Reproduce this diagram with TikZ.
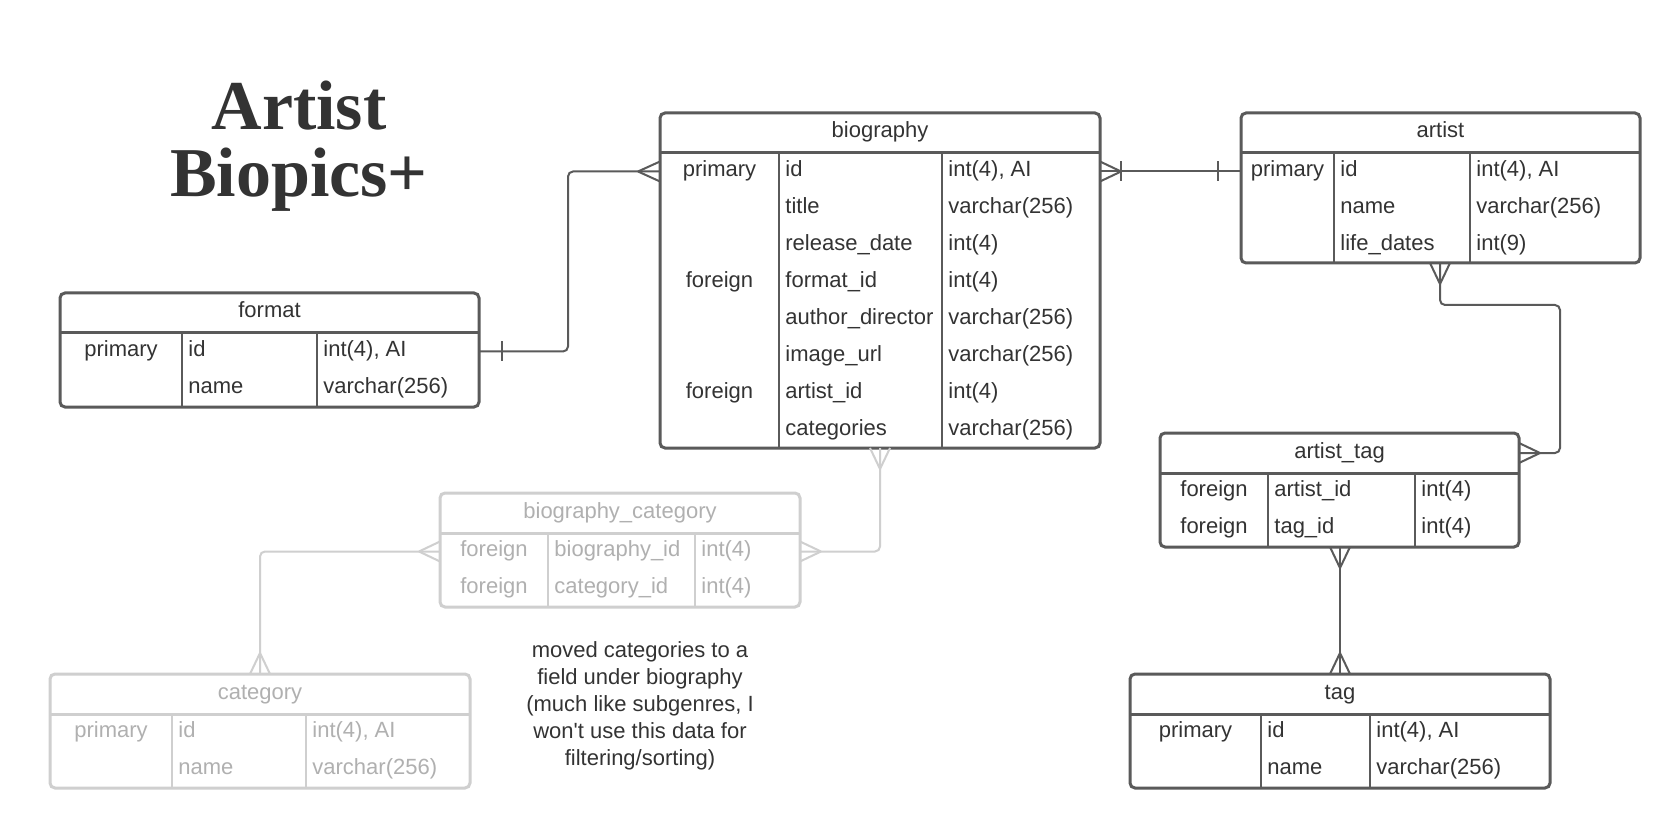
\documentclass[tikz,border=0pt]{standalone}
\usepackage{fontspec}
\setmainfont{Liberation Sans}
\newfontfamily\titlefont{Liberation Serif}
\usetikzlibrary{calc}
\definecolor{dkline}{HTML}{5A5A5A}
\definecolor{dktxtc}{HTML}{333333}
\definecolor{ltline}{HTML}{CFCFCF}
\definecolor{lttxtc}{HTML}{B0B0B0}
\tikzset{
  dkbox/.style={draw=dkline, line width=1.5pt, rounded corners=2.5pt, inner sep=0pt, outer sep=0pt, fill=white},
  ltbox/.style={draw=ltline, line width=1.5pt, rounded corners=2.5pt, inner sep=0pt, outer sep=0pt, fill=white},
  dksep/.style={draw=dkline, line width=1.5pt},
  ltsep/.style={draw=ltline, line width=1.5pt},
  dkdiv/.style={draw=dkline, line width=1pt},
  ltdiv/.style={draw=ltline, line width=1pt},
  dktxt/.style={text=dktxtc, inner sep=0pt, font=\fontsize{11pt}{13.4pt}\selectfont},
  lttxt/.style={text=lttxtc, inner sep=0pt, font=\fontsize{11pt}{13.4pt}\selectfont},
  dkconn/.style={draw=dkline, line width=1pt},
  ltconn/.style={draw=ltline, line width=1pt},
  titletxt/.style={text=dktxtc, inner sep=0pt, align=center, font=\titlefont\bfseries\fontsize{35pt}{33.5pt}\selectfont},
}
% entity box: name, left, top, right, bottom, divider1, divider2, title, prefix
\newcommand\erbox[9]{%
  \pgfmathsetmacro\erw{(#4-#2)*0.5}%
  \pgfmathsetmacro\erh{(#5-#3)*0.5}%
  \node[#9box, minimum width=\erw pt, minimum height=\erh pt] (#1) at ({(#2+#4)/2},{(#3+#5)/2}) {};
  \coordinate (#1-d1) at (#6,#3);
  \coordinate (#1-d2) at (#7,#3);
  \coordinate (#1-kc) at ({(#2+#6)/2},#3);
  \draw[#9sep] (#2,#3+40) -- (#4,#3+40);
  \draw[#9div] (#6,#3+40) -- (#6,#5);
  \draw[#9div] (#7,#3+40) -- (#7,#5);
  \node[#9txt, anchor=base] (#1-title) at ({(#2+#4)/2},#3+25) {#8};
}
% row: entity, index, key, field, type, prefix
\newcommand\errow[6]{%
  \pgfmathsetmacro\ery{40+37*(#2-1)+23.5}%
  \node[#6txt, anchor=base] (#1-k#2) at ($(#1-kc)+(0,\ery)$) {#3};
  \node[#6txt, anchor=base west] (#1-f#2) at ($(#1-d1)+(6,\ery)$) {#4};
  \node[#6txt, anchor=base west] (#1-t#2) at ($(#1-d2)+(6,\ery)$) {#5};
}
\newcommand\crowH[3]{\draw[#3] ($(#1)+(#2,0)$) -- ($(#1)+(0,-10)$) ($(#1)+(#2,0)$) -- ($(#1)+(0,10)$);}
\newcommand\crowV[3]{\draw[#3] ($(#1)+(0,#2)$) -- ($(#1)+(-10,0)$) ($(#1)+(0,#2)$) -- ($(#1)+(10,0)$);}
\newcommand\barH[3]{\draw[#3] ($(#1)+(#2,-10)$) -- ($(#1)+(#2,10)$);}
\begin{document}
\begin{tikzpicture}[x=0.5pt, y=-0.5pt]
\fill[white] (0,0) rectangle (1680,828);
\useasboundingbox (0,0) rectangle (1680,828);

\node[titletxt, anchor=base] (title) at (299,197) {Artist\\Biopics+};

% entities
\erbox{bio}{660}{113}{1100}{448}{779}{942}{biography}{dk}
\errow{bio}{1}{primary}{id}{int(4), AI}{dk}
\errow{bio}{2}{}{title}{varchar(256)}{dk}
\errow{bio}{3}{}{release\_date}{int(4)}{dk}
\errow{bio}{4}{foreign}{format\_id}{int(4)}{dk}
\errow{bio}{5}{}{author\_director}{varchar(256)}{dk}
\errow{bio}{6}{}{image\_url}{varchar(256)}{dk}
\errow{bio}{7}{foreign}{artist\_id}{int(4)}{dk}
\errow{bio}{8}{}{categories}{varchar(256)}{dk}

\erbox{artist}{1241}{113}{1640}{263}{1334}{1470}{artist}{dk}
\errow{artist}{1}{primary}{id}{int(4), AI}{dk}
\errow{artist}{2}{}{name}{varchar(256)}{dk}
\errow{artist}{3}{}{life\_dates}{int(9)}{dk}

\erbox{fmt}{60}{293}{479}{407}{182}{317}{format}{dk}
\errow{fmt}{1}{primary}{id}{int(4), AI}{dk}
\errow{fmt}{2}{}{name}{varchar(256)}{dk}

\erbox{bc}{440}{493}{800}{607}{548}{695}{biography\_category}{lt}
\errow{bc}{1}{foreign}{biography\_id}{int(4)}{lt}
\errow{bc}{2}{foreign}{category\_id}{int(4)}{lt}

\erbox{cat}{50}{674}{470}{788}{172}{306}{category}{lt}
\errow{cat}{1}{primary}{id}{int(4), AI}{lt}
\errow{cat}{2}{}{name}{varchar(256)}{lt}

\erbox{at}{1160}{433}{1519}{547}{1268}{1415}{artist\_tag}{dk}
\errow{at}{1}{foreign}{artist\_id}{int(4)}{dk}
\errow{at}{2}{foreign}{tag\_id}{int(4)}{dk}

\erbox{tag}{1130}{674}{1550}{788}{1261}{1370}{tag}{dk}
\errow{tag}{1}{primary}{id}{int(4), AI}{dk}
\errow{tag}{2}{}{name}{varchar(256)}{dk}

\node[dktxt, align=center, anchor=base] (note) at (640,765) {moved categories to a\\field under biography\\(much like subgenres, I\\won\textquotesingle t use this data for\\filtering/sorting)};

% connectors
\coordinate (fmtR) at ($(fmt.north east)+(0,58.5)$);
\coordinate (bioL) at ($(bio.north west)+(0,58.5)$);
\draw[dkconn, rounded corners=2.5pt] (fmtR) -- ++(89,0) |- (bioL);
\barH{fmtR}{23}{dkconn}
\crowH{bioL}{-22}{dkconn}

\coordinate (bioR) at ($(bio.north east)+(0,58.5)$);
\coordinate (artL) at ($(artist.north west)+(0,58.5)$);
\draw[dkconn] (bioR) -- (artL);
\crowH{bioR}{21}{dkconn}
\barH{bioR}{21}{dkconn}
\barH{artL}{-23}{dkconn}

\coordinate (artB) at ($(artist.south west)+(199,0)$);
\coordinate (atR) at ($(at.north east)+(0,20)$);
\draw[dkconn, rounded corners=2.5pt] (artB) -- ++(0,42) -- ++(120,0) |- (atR);
\crowV{artB}{21}{dkconn}
\crowH{atR}{21}{dkconn}

\coordinate (bioB) at ($(bio.south west)+(220,0)$);
\coordinate (bcR) at ($(bc.north east)+(0,58.5)$);
\draw[ltconn, rounded corners=2.5pt] (bioB) |- (bcR);
\crowV{bioB}{21}{ltconn}
\crowH{bcR}{21}{ltconn}

\coordinate (bcL) at ($(bc.north west)+(0,58.5)$);
\coordinate (catT) at ($(cat.north west)+(210,0)$);
\draw[ltconn, rounded corners=2.5pt] (bcL) -| (catT);
\crowH{bcL}{-21}{ltconn}
\crowV{catT}{-21}{ltconn}

\coordinate (atB) at ($(at.south west)+(180,0)$);
\coordinate (tagT) at ($(tag.north west)+(210,0)$);
\draw[dkconn] (atB) -- (tagT);
\crowV{atB}{21}{dkconn}
\crowV{tagT}{-21}{dkconn}
\end{tikzpicture}
\end{document}
